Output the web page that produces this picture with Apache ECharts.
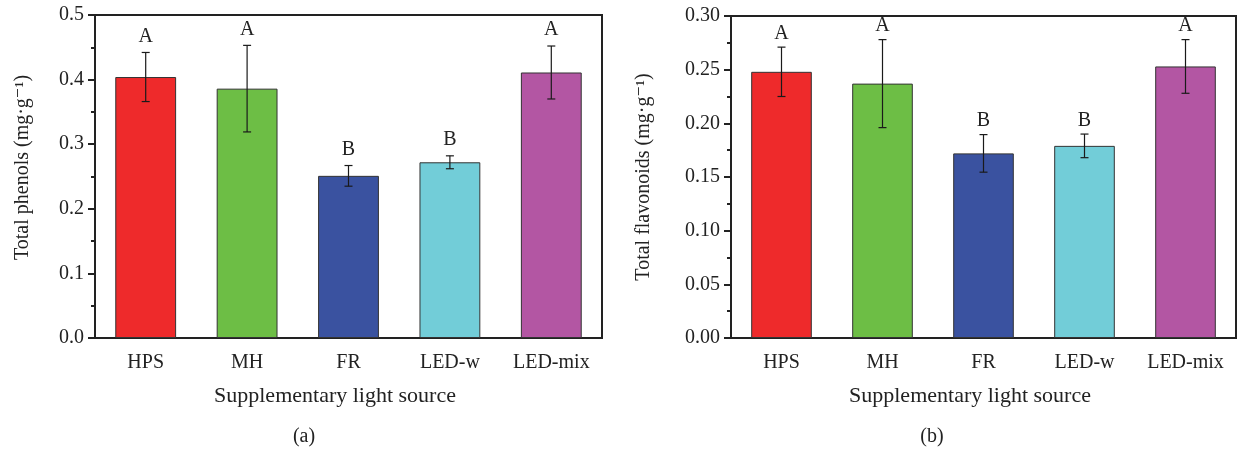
<!DOCTYPE html>
<html>
<head>
<meta charset="utf-8">
<script src="https://cdn.jsdelivr.net/npm/echarts@6/dist/echarts.min.js"></script>
<style>
html,body{margin:0;padding:0;background:#fff;}
#chart{width:1238px;height:449px;}
</style>
</head>
<body>
<div id="chart"></div>
<script>
const categories = ['HPS', 'MH', 'FR', 'LED-w', 'LED-mix'];
const barColors = ['#EE2A2B', '#6DBE45', '#3A52A0', '#72CDD8', '#B356A3'];

const phenolsMean = [0.404, 0.386, 0.251, 0.272, 0.411];
const phenolsErr = [0.038, 0.067, 0.016, 0.010, 0.041];
const phenolsLetters = ['A', 'A', 'B', 'B', 'A'];

const flavMean = [0.248, 0.237, 0.172, 0.179, 0.253];
const flavErr = [0.023, 0.041, 0.0175, 0.011, 0.025];
const flavLetters = ['A', 'A', 'B', 'B', 'A'];

const phenolsTicks = { min: 0, max: 0.5, interval: 0.1 };
const flavTicks = { min: 0, max: 0.3, interval: 0.05 };

const panelLabels = ['(a)', '(b)'];

const FONT = '"Liberation Serif", "DejaVu Serif", serif';
const AX = '#222';

function barData(means) {
  return means.map((v, i) => ({ value: v, itemStyle: { color: barColors[i] } }));
}
function errData(means, errs, letters) {
  return means.map((v, i) => [i, v - errs[i], v + errs[i], letters[i]]);
}
function makeErrRender(gap) {
  return function (params, api) {
    const i = api.value(0);
    const lo = api.coord([i, api.value(1)]);
    const hi = api.coord([i, api.value(2)]);
    const cap = 4;
    const style = { stroke: '#1a1a1a', lineWidth: 1.2 };
    return {
      type: 'group',
      children: [
        { type: 'line', shape: { x1: hi[0], y1: hi[1], x2: lo[0], y2: lo[1] }, style },
        { type: 'line', shape: { x1: hi[0] - cap, y1: hi[1], x2: hi[0] + cap, y2: hi[1] }, style },
        { type: 'line', shape: { x1: lo[0] - cap, y1: lo[1], x2: lo[0] + cap, y2: lo[1] }, style },
        { type: 'text', x: hi[0], y: hi[1] - gap,
          style: { text: api.value(3), fill: '#222', font: '20px ' + FONT, textAlign: 'center', textVerticalAlign: 'bottom' } }
      ]
    };
  };
}

function xAxis(idx) {
  return {
    type: 'category', gridIndex: idx, data: categories,
    axisLine: { lineStyle: { color: AX, width: 2 } },
    axisTick: { alignWithLabel: true, length: 6, lineStyle: { color: AX, width: 2 } },
    axisLabel: { color: '#222', fontFamily: FONT, fontSize: 20, margin: 15 },
    name: 'Supplementary light source',
    nameLocation: 'middle', nameGap: 47,
    nameTextStyle: { color: '#222', fontFamily: FONT, fontSize: 22, padding: [0, 27, 0, 0] }
  };
}
function yAxis(idx, ticks, name, digits, gap, shift) {
  return {
    type: 'value', gridIndex: idx, min: ticks.min, max: ticks.max, interval: ticks.interval,
    axisLine: { show: true, lineStyle: { color: AX, width: 2 } },
    axisTick: { show: true, length: 7, lineStyle: { color: AX, width: 2 } },
    minorTick: { show: true, splitNumber: 2, length: 4, lineStyle: { color: AX, width: 2 } },
    splitLine: { show: false },
    axisLabel: { color: '#222', fontFamily: FONT, fontSize: 20, margin: 11,
      formatter: v => v.toFixed(digits) },
    name: name, nameLocation: 'middle', nameGap: gap, nameRotate: 90,
    nameTextStyle: { color: '#222', fontFamily: FONT, fontSize: 20, padding: [0, 0, 0, shift] }
  };
}

const chart = echarts.init(document.getElementById('chart'), null, { renderer: 'canvas' });
chart.setOption({
  animation: false,
  backgroundColor: '#fff',
  graphic: [
    { type: 'text', x: 304, y: 437, silent: true,
      style: { text: panelLabels[0], font: '20px ' + FONT, fill: '#222', textAlign: 'center', textVerticalAlign: 'middle' } },
    { type: 'text', x: 932, y: 437, silent: true,
      style: { text: panelLabels[1], font: '20px ' + FONT, fill: '#222', textAlign: 'center', textVerticalAlign: 'middle' } }
  ],
  grid: [
    { left: 95, right: 636, top: 15, bottom: 111, show: true, borderColor: AX, borderWidth: 2, backgroundColor: 'transparent' },
    { left: 731, right: 2, top: 16, bottom: 111, show: true, borderColor: AX, borderWidth: 2, backgroundColor: 'transparent' }
  ],
  xAxis: [xAxis(0), xAxis(1)],
  yAxis: [
    yAxis(0, phenolsTicks, 'Total phenols (mg·g⁻¹)', 1, 62, 18),
    yAxis(1, flavTicks, 'Total flavonoids (mg·g⁻¹)', 2, 77, 0)
  ],
  series: [
    { type: 'bar', xAxisIndex: 0, yAxisIndex: 0, barWidth: '60%', data: barData(phenolsMean),
      itemStyle: { borderColor: '#333', borderWidth: 1 } },
    { type: 'custom', xAxisIndex: 0, yAxisIndex: 0, renderItem: makeErrRender(6),
      data: errData(phenolsMean, phenolsErr, phenolsLetters), z: 5 },
    { type: 'bar', xAxisIndex: 1, yAxisIndex: 1, barWidth: '60%', data: barData(flavMean),
      itemStyle: { borderColor: '#333', borderWidth: 1 } },
    { type: 'custom', xAxisIndex: 1, yAxisIndex: 1, renderItem: makeErrRender(3.5),
      data: errData(flavMean, flavErr, flavLetters), z: 5 }
  ]
});
</script>
</body>
</html>
